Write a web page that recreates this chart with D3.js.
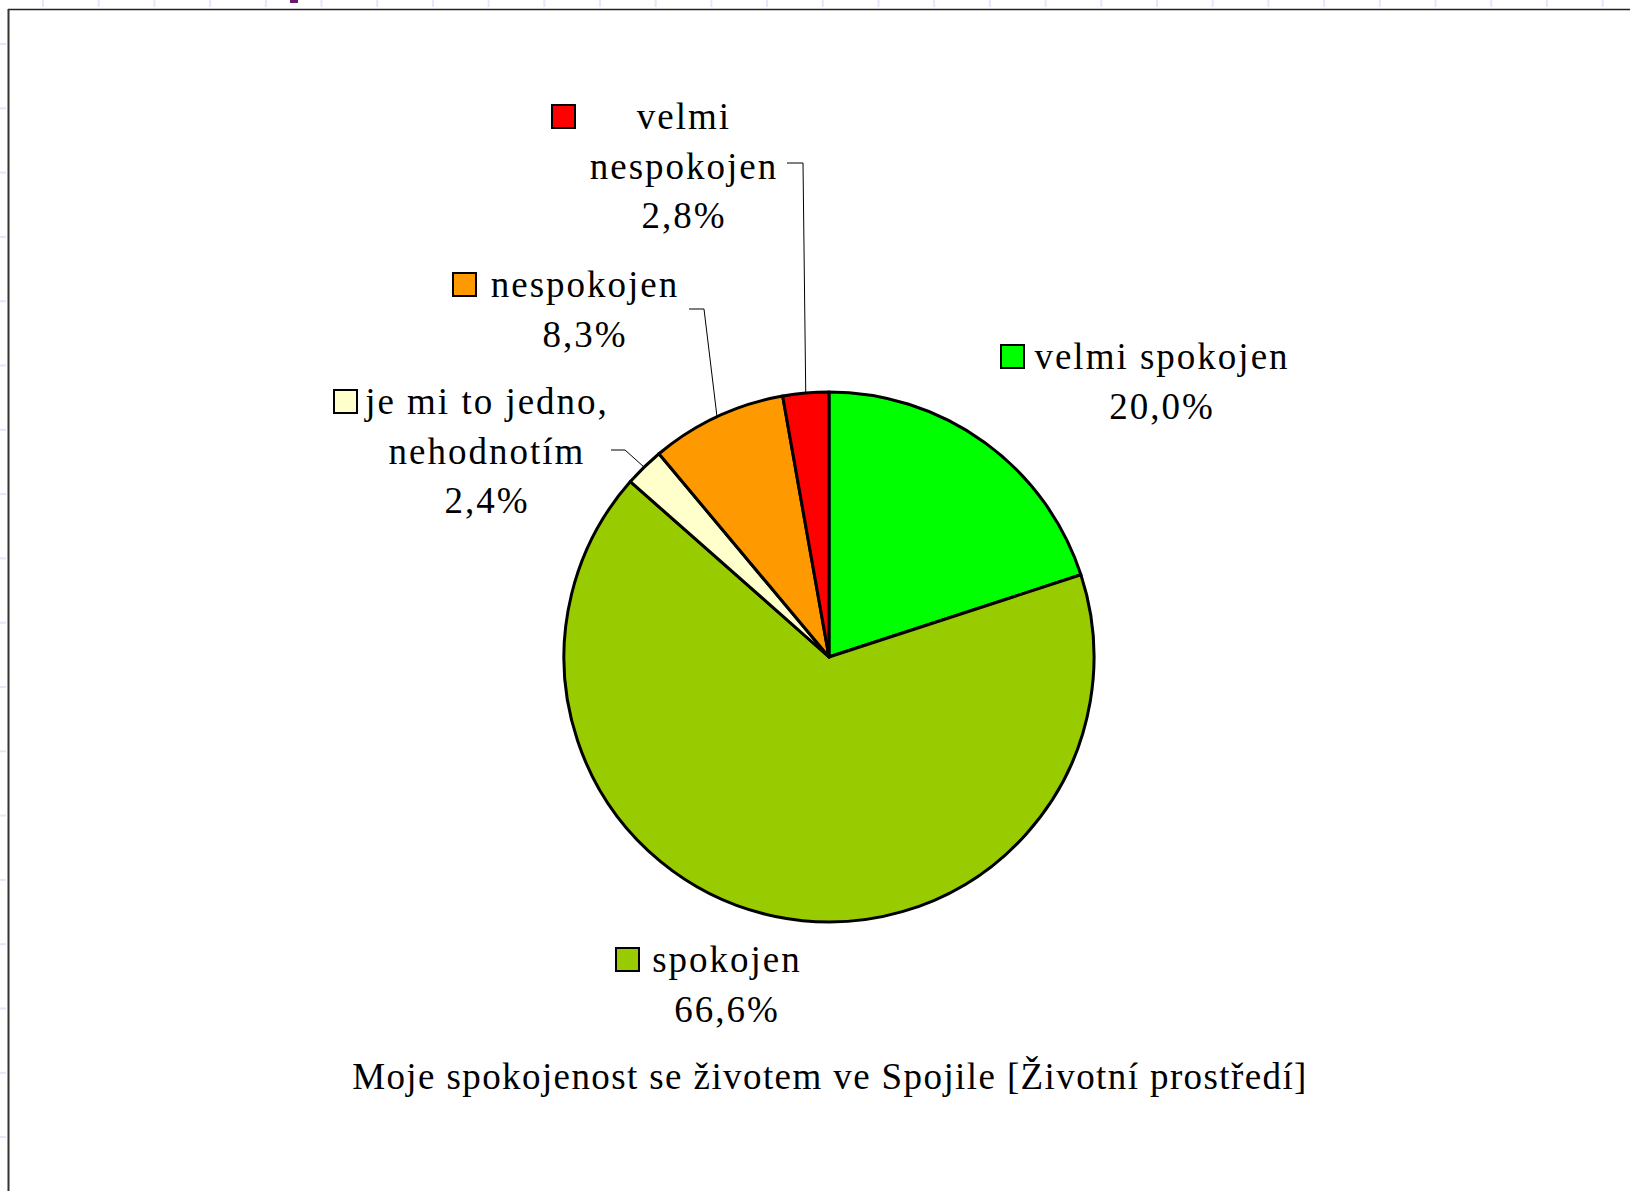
<!DOCTYPE html>
<html>
<head>
<meta charset="utf-8">
<script src="https://cdn.jsdelivr.net/npm/d3@7"></script>
<style>
  body { margin: 0; background: #fff; }
  svg text { font-family: "Liberation Serif", "Times New Roman", serif; fill: #000; }
</style>
</head>
<body>
<div id="chart"></div>
<script>
// Data
var categories = ["velmi spokojen", "spokojen", "je mi to jedno, nehodnotím", "nespokojen", "velmi nespokojen"];
var values = [20.0, 66.6, 2.4, 8.3, 2.8];
var colors = ["#00ff00", "#99cc00", "#ffffcc", "#ff9900", "#ff0000"];
var labelLines = [["velmi spokojen"], ["spokojen"], ["je mi to jedno,", "nehodnotím"], ["nespokojen"], ["velmi", "nespokojen"]];
var title = "Moje spokojenost se životem ve Spojile [Životní prostředí]";

function init(){
    var w = 1630, h = 1191;
    var cx = 829, cy = 657, r = 265;

    // Where each data label sits (center x, first baseline, key x, leader elbow)
    var layout = [
        {x: 1162, y: 369, keyX: 1001, elbow: null},
        {x: 727,  y: 972, keyX: 616,  elbow: null},
        {x: 487,  y: 414, keyX: 334,  elbow: [611, 625, 450]},
        {x: 585,  y: 297, keyX: 453,  elbow: [689, 704, 309]},
        {x: 684,  y: 129, keyX: 552,  elbow: [787, 803, 163]}
    ];
    var lineH = 49.5;

    var svg = d3.select("#chart")
                .append("svg")
                .attr("width", w)
                .attr("height", h);

    // screenshot ruler marks along top and left edge
    svg.selectAll("rect.rt")
        .data(d3.range(43, w, 55.7))
        .enter().append("rect")
        .attr("x", function(d){ return d - 1; })
        .attr("y", 0).attr("width", 2).attr("height", 7)
        .attr("fill", "#e2e8fa");
    svg.selectAll("rect.rl")
        .data(d3.range(44, h, 64.3))
        .enter().append("rect")
        .attr("x", 0).attr("y", function(d){ return d - 1; })
        .attr("width", 6).attr("height", 2)
        .attr("fill", "#e2e8fa");
    svg.append("rect").attr("x", 290).attr("y", 0).attr("width", 8).attr("height", 3).attr("fill", "#6a1a6a");

    // chart frame (top and left edge only visible)
    svg.append("line")
        .attr("x1", 8).attr("y1", 9.5).attr("x2", w).attr("y2", 9.5)
        .attr("stroke", "#222").attr("stroke-width", 1.3);
    svg.append("line")
        .attr("x1", 8.5).attr("y1", 9).attr("x2", 8.5).attr("y2", h)
        .attr("stroke", "#333").attr("stroke-width", 2);

    var pie = d3.pie().sort(null).value(function(d){ return d; });
    var arcs = pie(values);
    var arc = d3.arc().innerRadius(0).outerRadius(r);
    var edge = d3.arc().innerRadius(r).outerRadius(r);

    var g = svg.append("g").attr("transform", "translate(" + cx + "," + cy + ")");

    g.selectAll("path")
        .data(arcs)
        .enter()
        .append("path")
        .attr("d", arc)
        .attr("fill", function(d, i){ return colors[i]; })
        .attr("stroke", "#000")
        .attr("stroke-width", 3)
        .attr("stroke-linejoin", "round");

    // leader lines from slice edge to label
    arcs.forEach(function(d, i){
        var el = layout[i].elbow;
        if (!el) return;
        var p = edge.centroid(d);
        svg.append("polyline")
            .attr("points", [[el[0], el[2]], [el[1], el[2]], [cx + p[0], cy + p[1]]].map(function(q){ return q.join(","); }).join(" "))
            .attr("fill", "none")
            .attr("stroke", "#000")
            .attr("stroke-width", 1);
    });

    var fmt = function(v){ return d3.format(".1f")(v).replace(".", ",") + "%"; };

    // data labels with legend key
    var labels = svg.selectAll("g.lbl")
        .data(arcs)
        .enter()
        .append("g")
        .attr("class", "lbl");

    labels.append("rect")
        .attr("x", function(d, i){ return layout[i].keyX; })
        .attr("y", function(d, i){ return layout[i].y - 24; })
        .attr("width", 23)
        .attr("height", 23)
        .attr("fill", function(d, i){ return colors[i]; })
        .attr("stroke", "#000")
        .attr("stroke-width", 2);

    labels.each(function(d, i){
        var lines = labelLines[i].concat([fmt(values[i])]);
        var t = d3.select(this).append("text")
            .attr("text-anchor", "middle")
            .attr("font-size", 37)
            .attr("letter-spacing", 2);
        lines.forEach(function(s, k){
            t.append("tspan")
                .attr("x", layout[i].x)
                .attr("y", layout[i].y + k * lineH)
                .text(s);
        });
    });

    svg.append("text")
        .attr("x", 830)
        .attr("y", 1089)
        .attr("text-anchor", "middle")
        .attr("font-size", 37)
        .attr("letter-spacing", 1.4)
        .text(title);
}
window.onload = init;
</script>
</body>
</html>
